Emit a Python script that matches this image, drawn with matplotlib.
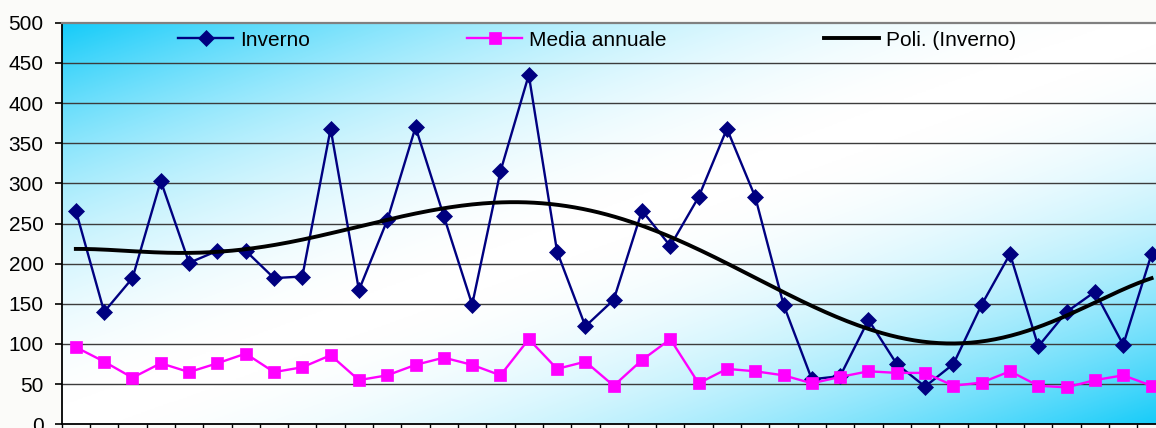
import matplotlib.pyplot as plt
import numpy as np
from matplotlib.colors import LinearSegmentedColormap

plt.rcParams['font.family'] = ['Liberation Sans', 'DejaVu Sans']

# Winter values and yearly mean, one point per year
inverno = [266, 140, 182, 303, 201, 216, 216, 182, 184, 368, 167, 254, 370, 259,
           149, 315, 435, 215, 122, 155, 266, 222, 283, 368, 283, 149, 56, 60,
           130, 75, 47, 75, 149, 212, 97, 140, 165, 99, 212]
media_annuale = [96, 78, 58, 76, 65, 76, 88, 65, 71, 86, 55, 61, 74, 83, 74, 61,
                 106, 69, 78, 48, 80, 106, 51, 69, 66, 61, 51, 59, 66, 64, 64, 48,
                 52, 66, 48, 46, 55, 61, 48]
series_labels = ["Inverno", "Media annuale", "Poli. (Inverno)"]
poly_degree = 6

x = np.arange(1, len(inverno) + 1)

# polynomial trend of the winter series
coef = np.polyfit(x, inverno, poly_degree)
xs = np.linspace(1, len(inverno), 400)
trend = np.polyval(coef, xs)

W, H = 1156, 428
fig = plt.figure(figsize=(W / 100, H / 100), dpi=100)
fig.patch.set_facecolor('#fbfbf9')
ax = fig.add_axes([61.7 / W, 3.7 / H, 1104 / W, 401.6 / H])

# diagonal fill: cyan in the top-left and bottom-right corners, white across the middle
cmap = LinearSegmentedColormap.from_list('bg', ['#ffffff', '#14cbf9'])
gx, gy = np.meshgrid(np.linspace(0, 1, 500), np.linspace(1, 0, 250))
t = (gx + (1 - gy)) / 2
shade = np.abs(2 * t - 1) ** 1.9
ax.imshow(shade, cmap=cmap, vmin=0, vmax=1,
          extent=(0.5, len(inverno) + 0.5, 0, 500),
          aspect='auto', origin='upper', zorder=0, interpolation='bicubic')

ax.set_xlim(0.5, len(inverno) + 0.5)
ax.set_ylim(0, 500)

for yv in range(50, 500, 50):
    ax.axhline(yv, color='#3c3c3c', lw=1.0, zorder=1)

ax.plot(x, inverno, color='#000080', lw=1.7, marker='D', ms=8.5, mew=0.5,
        label=series_labels[0], zorder=3)
ax.plot(x, media_annuale, color='#ff00ff', lw=1.7, marker='s', ms=8.5, mew=0.5,
        label=series_labels[1], zorder=3)
ax.plot(xs, trend, color='black', lw=2.8, label=series_labels[2], zorder=4)

ax.set_yticks(range(0, 501, 50))
ax.set_xticks(np.arange(0.5, len(inverno) + 1))
ax.set_xticklabels([])
ax.tick_params(axis='y', direction='out', length=5, width=1.2, pad=8,
               labelsize=15, colors='black')
ax.tick_params(axis='x', direction='out', length=5, width=1.0)

ax.spines['top'].set_color('#808080')
ax.spines['top'].set_linewidth(1.6)
ax.spines['right'].set_visible(False)
ax.spines['left'].set_linewidth(1.3)
ax.spines['bottom'].set_linewidth(1.3)

fs = 15
px = fs * 100 / 72
ax.legend(loc='center', bbox_to_anchor=(597 / W, 1 - 40 / H),
          bbox_transform=fig.transFigure, ncol=3, frameon=False, fontsize=fs,
          handlelength=55 / px, handletextpad=7 / px, columnspacing=157 / px,
          borderpad=0)

fig.savefig('out.png', dpi=100, facecolor=fig.get_facecolor())
